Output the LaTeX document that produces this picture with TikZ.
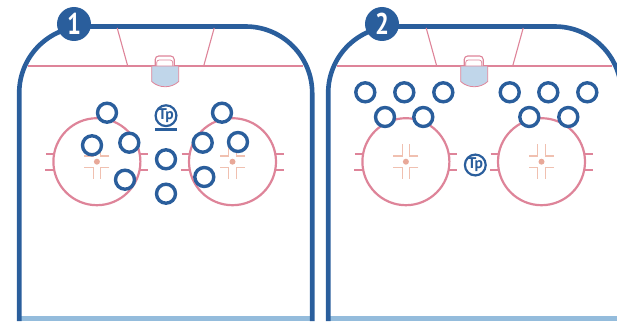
\documentclass[tikz,border=0pt]{standalone}
\usepackage{fontspec}
\setmainfont{PT Sans}
\definecolor{rinkblue}{HTML}{2A5E9C}
\definecolor{rinkred}{HTML}{DE8499}
\definecolor{icebar}{HTML}{94BCDC}
\definecolor{crease}{HTML}{C0D6EA}
\definecolor{dotc}{HTML}{E8A898}
\definecolor{hashc}{HTML}{F0C0B0}
\newcommand{\narrowtext}[1]{\scalebox{.82}[1]{#1}}
\tikzset{
  x=1pt,y=-1pt,
  player/.style={circle,draw=rinkblue,line width=3.4pt,fill=white,minimum size=19pt,inner sep=0pt},
  tpnode/.style={circle,draw=rinkblue,line width=2.2pt,fill=white,minimum size=20pt,inner sep=0pt,text=rinkblue,font=\bfseries\fontsize{15.5}{15.5}\selectfont},
  badge/.style={circle,fill=rinkblue,minimum size=34pt,inner sep=0pt,text=white,font=\bfseries\fontsize{30}{30}\selectfont},
  redline/.style={draw=rinkred,line width=2pt},
  thinred/.style={draw=rinkred,line width=1.1pt},
  hash/.style={draw=rinkred,line width=1.9pt},
  fcircle/.style={draw=rinkred,line width=2.2pt},
  cross/.style={draw=hashc,line width=1.1pt},
  pics/faceoff/.style={code={
    \draw[fcircle] (0,0) circle[radius=43.5];
    \draw[hash] (-51,-7.7) -- (-43.5,-7.7) (-51.5,8) -- (-43.5,8)
                (43.5,-7.7) -- (51.5,-7.7) (43.5,8) -- (51.5,8);
    \foreach \sx in {-1,1}\foreach \sy in {-1,1}
      \draw[cross] (\sx*12.5,\sy*5.7) -- (\sx*3.8,\sy*5.7) -- (\sx*3.8,\sy*17.5);
    \fill[dotc] (0,0) circle[radius=3];
  }},
  pics/rink/.style={code={
    \fill[icebar] (0,316) rectangle (293,321);
    \draw[rinkblue,line width=4.6pt] (0,321) -- (0,93) arc[start angle=180,end angle=270,radius=66.5]
      -- (226.5,26.5) arc[start angle=270,end angle=360,radius=66.5] -- (293,321);
    \draw[redline] (9,66) -- (284,66);
    \draw[thinred] (98,28) -- (108.5,66) (195,28) -- (184.5,66);
    \draw[thinred,fill=white] (136,66) -- (136,59.5) arc[start angle=180,end angle=270,radius=3.5] -- (151.5,56) arc[start angle=270,end angle=360,radius=3.5] -- (155,66);
    \draw[thinred,line width=.7pt] (137.5,66) -- (137.5,62.5) arc[start angle=180,end angle=270,radius=2.5] -- (151,60) arc[start angle=270,end angle=360,radius=2.5] -- (153.5,66);
    \draw[thinred,fill=crease,line width=.8pt] (132.5,66) -- (132.5,81.5) .. controls (140,88.5) and (152,88.5) .. (159.5,81.5) -- (159.5,66) -- cycle;
    \pic at (77.7,161.7) {faceoff};
    \pic at (213.3,161.7) {faceoff};
  }}
}
\begin{document}
\begin{tikzpicture}
\useasboundingbox (0,0) rectangle (617,321);
\clip (0,0) rectangle (617,321);
\pic at (19.2,0) {rink};
\pic at (328.2,0) {rink};
% rink 1
\node[player] (a1) at (107,112.7) {};
\node[player] (a2) at (92,145.3) {};
\node[player] (a3) at (129.3,142.7) {};
\node[player] (a4) at (125,179.7) {};
\node[player] (a5) at (222,112.7) {};
\node[player] (a6) at (202.7,142.7) {};
\node[player] (a7) at (238,142) {};
\node[player] (a8) at (204.3,177) {};
\node[player] (a9) at (166,159.3) {};
\node[player] (a10) at (166,193.7) {};
\node[tpnode] (tp1) at (166,115.7) {Tp};
\fill[rinkblue] (155,127.8) rectangle (177,130.8);
\node[badge] (b1) at (74,24) {\narrowtext{1}};
% rink 2
\node[player] (c1) at (365.3,92.3) {};
\node[player] (c2) at (404.3,92.3) {};
\node[player] (c3) at (443.3,92.3) {};
\node[player] (c4) at (385,117) {};
\node[player] (c5) at (423.3,117) {};
\node[player] (c6) at (509.7,92.3) {};
\node[player] (c7) at (548.3,92.3) {};
\node[player] (c8) at (587.3,92.3) {};
\node[player] (c9) at (529.3,117) {};
\node[player] (c10) at (568.3,117) {};
\node[tpnode] (tp2) at (475.3,165) {Tp};
\node[badge] (b2) at (382,24) {\narrowtext{2}};
\end{tikzpicture}
\end{document}
